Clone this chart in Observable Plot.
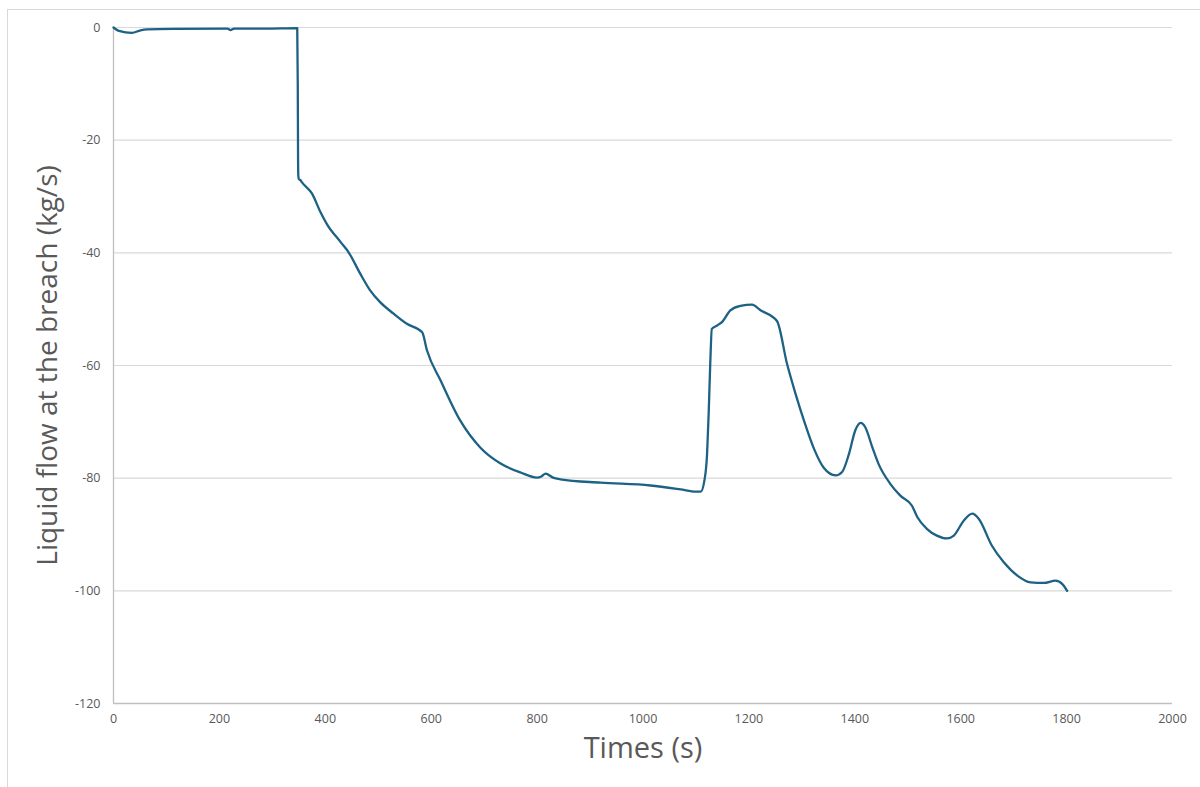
<!DOCTYPE html>
<html>
<head>
<meta charset="utf-8">
<script src="https://cdn.jsdelivr.net/npm/d3@7"></script>
<script src="https://cdn.jsdelivr.net/npm/@observablehq/plot@0.6"></script>
<style>
  html, body { margin: 0; padding: 0; background: #fff; }
  #wrap { position: relative; width: 1200px; height: 787px; overflow: hidden; }
  #frame { position: absolute; left: 7px; top: 9px; width: 1200px; height: 800px;
           border-top: 1.5px solid #d9d9d9; border-left: 1.5px solid #d9d9d9; box-sizing: border-box; }
  #chart { position: absolute; left: 0; top: 0; }
</style>
</head>
<body>
<div id="wrap"><div id="frame"></div><div id="chart"></div></div>
<script>
const times = [0, 10, 35, 51, 64, 120, 215, 221, 228, 287, 347, 348, 348.5, 349, 350, 353, 356, 375, 391, 403, 429, 444, 466, 485, 504, 529, 554, 583, 592, 618, 655, 693, 731, 769, 800, 808, 816, 830, 844, 920, 1014, 1071, 1100, 1109, 1116, 1121, 1124, 1127, 1130, 1140, 1149, 1165, 1184, 1206, 1222, 1253, 1272, 1288, 1304, 1323, 1341, 1364, 1376, 1389, 1401, 1411, 1420, 1433, 1445, 1467, 1486, 1508, 1518, 1536, 1555, 1574, 1587, 1606, 1622, 1634, 1659, 1681, 1707, 1732, 1757, 1779, 1792, 1801];
const flows = [0, -0.6, -0.95, -0.5, -0.35, -0.25, -0.2, -0.45, -0.2, -0.2, -0.1, -10, -22.1, -26.2, -26.9, -27.1, -27.5, -29.5, -32.8, -34.9, -38.1, -39.9, -43.7, -46.7, -48.8, -50.8, -52.6, -54.1, -57.3, -62.7, -69.8, -74.6, -77.4, -79.0, -79.9, -79.7, -79.2, -79.9, -80.2, -80.8, -81.3, -82.0, -82.4, -82.4, -80.4, -75.7, -68.6, -59.7, -53.5, -52.9, -52.3, -50.2, -49.4, -49.2, -50.2, -52.1, -59.7, -65.0, -69.8, -74.8, -78.1, -79.5, -78.9, -75.7, -71.5, -70.2, -71.0, -74.5, -77.5, -81.0, -83.1, -84.9, -86.9, -89.0, -90.2, -90.7, -90.2, -87.5, -86.3, -87.2, -92.0, -94.9, -97.3, -98.5, -98.6, -98.2, -98.8, -100.0];
const xTicks = [0, 200, 400, 600, 800, 1000, 1200, 1400, 1600, 1800, 2000];
const yTicks = [0, -20, -40, -60, -80, -100, -120];
const xTitle = "Times (s)";
const yTitle = "Liquid flow at the breach (kg/s)";

const data = times.map((t, i) => ({t, v: flows[i]}));
const font = "Open Sans, Liberation Sans, sans-serif";

const chart = Plot.plot({
  width: 1200,
  height: 787,
  marginLeft: 113,
  marginRight: 28,
  marginTop: 27,
  marginBottom: 84,
  style: {fontFamily: font, fontSize: "12.5px", color: "#595959", background: "transparent"},
  x: {domain: [0, 2000], ticks: xTicks, tickFormat: d => String(d), tickSize: 0, tickPadding: 11, label: null},
  y: {domain: [-120, 0], ticks: yTicks, tickFormat: d => String(d), tickSize: 0, tickPadding: 13, label: null},
  marks: [
    Plot.ruleY(yTicks.filter(d => d !== -120), {stroke: "#d9d9d9", strokeWidth: 1.2}),
    Plot.ruleY([-120], {stroke: "#bfbfbf", strokeWidth: 1.3}),
    Plot.ruleX([0], {stroke: "#bfbfbf", strokeWidth: 1.3}),
    Plot.line(data, {x: "t", y: "v", stroke: "#1d6184", strokeWidth: 2.3, curve: "monotone-x"}),
    Plot.text([xTitle], {frameAnchor: "bottom", dy: 54, fontSize: 29, fill: "#595959", fontFamily: font}),
    Plot.text([yTitle], {frameAnchor: "left", textAnchor: "middle", dx: -65, rotate: -90, fontSize: 28, fill: "#595959", fontFamily: font})
  ]
});
document.getElementById("chart").appendChild(chart);
</script>
</body>
</html>
